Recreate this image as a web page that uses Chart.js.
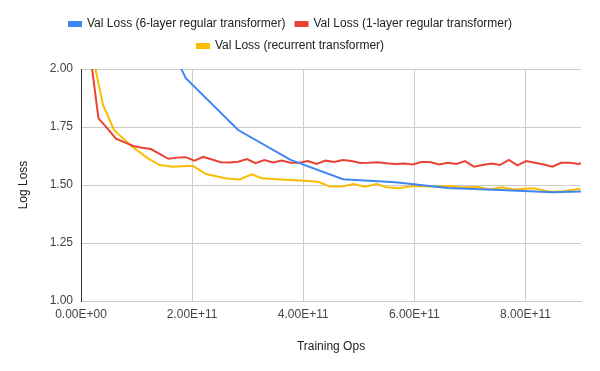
<!DOCTYPE html>
<html>
<head>
<meta charset="utf-8">
<script src="https://cdn.jsdelivr.net/npm/chart.js@4"></script>
<style>
  html, body { margin: 0; padding: 0; background: #ffffff; }
  #wrap { width: 600px; height: 371px; position: relative; }
</style>
</head>
<body>
<div id="wrap"><canvas id="c"></canvas></div>
<script>
// ---- Data (x in units of 1e11 training ops) ----
const OPS_UNIT = 1e11;

const seriesNames = [
  'Val Loss (6-layer regular transformer)',
  'Val Loss (1-layer regular transformer)',
  'Val Loss (recurrent transformer)'
];

const sixLayerX = [0.943, 1.886, 2.829, 3.772, 4.715, 5.658, 6.601, 7.544, 8.487, 9.43];
const sixLayerY = [2.43, 1.96, 1.737, 1.608, 1.525, 1.512, 1.487, 1.478, 1.469, 1.474];

const oneLayerX = [0.157,0.314,0.471,0.628,0.786,0.943,1.100,1.257,1.414,1.571,1.728,1.885,2.042,2.200,2.357,2.514,2.671,2.828,2.985,3.142,3.300,3.457,3.614,3.771,3.928,4.085,4.242,4.400,4.557,4.714,4.871,5.028,5.185,5.342,5.500,5.657,5.814,5.971,6.128,6.285,6.442,6.600,6.757,6.914,7.071,7.228,7.385,7.542,7.700,7.857,8.014,8.171,8.328,8.485,8.642,8.800,8.957,9.114];
const oneLayerY = [2.08,1.787,1.745,1.70,1.684,1.668,1.661,1.655,1.634,1.613,1.618,1.62,1.605,1.621,1.610,1.598,1.597,1.600,1.612,1.594,1.608,1.597,1.605,1.596,1.596,1.603,1.591,1.605,1.599,1.608,1.603,1.595,1.596,1.598,1.594,1.591,1.593,1.588,1.599,1.599,1.588,1.596,1.591,1.603,1.579,1.586,1.593,1.586,1.608,1.585,1.603,1.596,1.588,1.579,1.596,1.596,1.591,1.600];

const recurrentX = [0.20,0.396,0.594,0.905,1.205,1.415,1.655,2.01,2.25,2.59,2.86,3.07,3.25,3.60,3.94,4.27,4.48,4.69,4.90,5.11,5.32,5.50,5.71,5.98,6.30,6.64,6.82,7.15,7.36,7.57,7.78,8.14,8.44,8.68,8.99];
const recurrentY = [2.07,1.845,1.737,1.668,1.615,1.586,1.579,1.583,1.547,1.529,1.524,1.546,1.529,1.524,1.519,1.514,1.493,1.493,1.504,1.493,1.504,1.490,1.486,1.496,1.494,1.496,1.490,1.491,1.481,1.490,1.481,1.486,1.471,1.473,1.484];

const xTicks = [0, 2, 4, 6, 8];          // ×1e11
const yTicks = [1.00, 1.25, 1.50, 1.75, 2.00];

const colors = ['#4285F4', '#EA4335', '#FBBC04'];

function pts(xs, ys) { return xs.map((x, i) => ({ x: x * OPS_UNIT, y: ys[i] })); }

function sci(v) {
  if (Math.abs(v) < 1e-9) return '0.00E+00';
  const e = Math.floor(Math.log10(Math.abs(v)) + 1e-9);
  const m = v / Math.pow(10, e);
  return m.toFixed(2) + 'E+' + String(e).padStart(2, '0');
}

const FONT = '"Liberation Sans", Arial, sans-serif';

const legendPatch = {
  id: 'legendPatch',
  afterInit(chart) {
    const lg = chart.legend;
    if (lg && !lg._patched) {
      const fit0 = lg.fit;
      lg.fit = function () { fit0.call(this); this.height += 7; };
      lg._patched = true;
    }
  }
};

new Chart(document.getElementById('c'), {
  type: 'line',
  data: {
    datasets: [
      { label: seriesNames[0], data: pts(sixLayerX, sixLayerY), borderColor: colors[0], backgroundColor: colors[0] },
      { label: seriesNames[1], data: pts(oneLayerX, oneLayerY), borderColor: colors[1], backgroundColor: colors[1] },
      { label: seriesNames[2], data: pts(recurrentX, recurrentY), borderColor: colors[2], backgroundColor: colors[2] }
    ]
  },
  plugins: [legendPatch],
  options: {
    responsive: true,
    maintainAspectRatio: false,
    animation: false,
    layout: { padding: { top: 8, right: 19, left: 0, bottom: 0 } },
    elements: {
      line: { borderWidth: 2, tension: 0 },
      point: { radius: 0, hoverRadius: 0 }
    },
    plugins: {
      tooltip: { enabled: false },
      legend: {
        position: 'top',
        labels: {
          boxWidth: 12,
          boxHeight: 4,
          padding: 10,
          color: '#222222',
          font: { family: FONT, size: 12 }
        }
      }
    },
    scales: {
      x: {
        type: 'linear',
        min: 0,
        max: 9 * OPS_UNIT,
        afterBuildTicks(s) { s.ticks = xTicks.map(v => ({ value: v * OPS_UNIT })); },
        afterFit(s) { s.height = 70; },
        ticks: {
          padding: 6,
          color: '#444444',
          font: { family: FONT, size: 12 },
          maxRotation: 0,
          autoSkip: false,
          callback: v => sci(v)
        },
        grid: {
          drawTicks: false,
          color: c => (c.tick && c.tick.value === 0) ? 'rgba(0,0,0,0)' : '#cccccc'
        },
        border: { display: true, color: '#cccccc' },
        title: {
          display: true,
          text: 'Training Ops',
          color: '#222222',
          font: { family: FONT, size: 12 },
          padding: { top: 0, bottom: 17 }
        }
      },
      y: {
        type: 'linear',
        min: 1,
        max: 2,
        afterBuildTicks(s) { s.ticks = yTicks.map(v => ({ value: v })); },
        afterFit(s) { s.width = 81; },
        ticks: {
          padding: 8,
          color: '#444444',
          font: { family: FONT, size: 12 },
          callback: v => Number(v).toFixed(2)
        },
        grid: { drawTicks: false, color: '#cccccc' },
        border: { display: true, color: '#333333' },
        title: {
          display: true,
          text: 'Log Loss',
          color: '#222222',
          font: { family: FONT, size: 12 },
          padding: { top: 16, bottom: 0 }
        }
      }
    }
  }
});
</script>
</body>
</html>
